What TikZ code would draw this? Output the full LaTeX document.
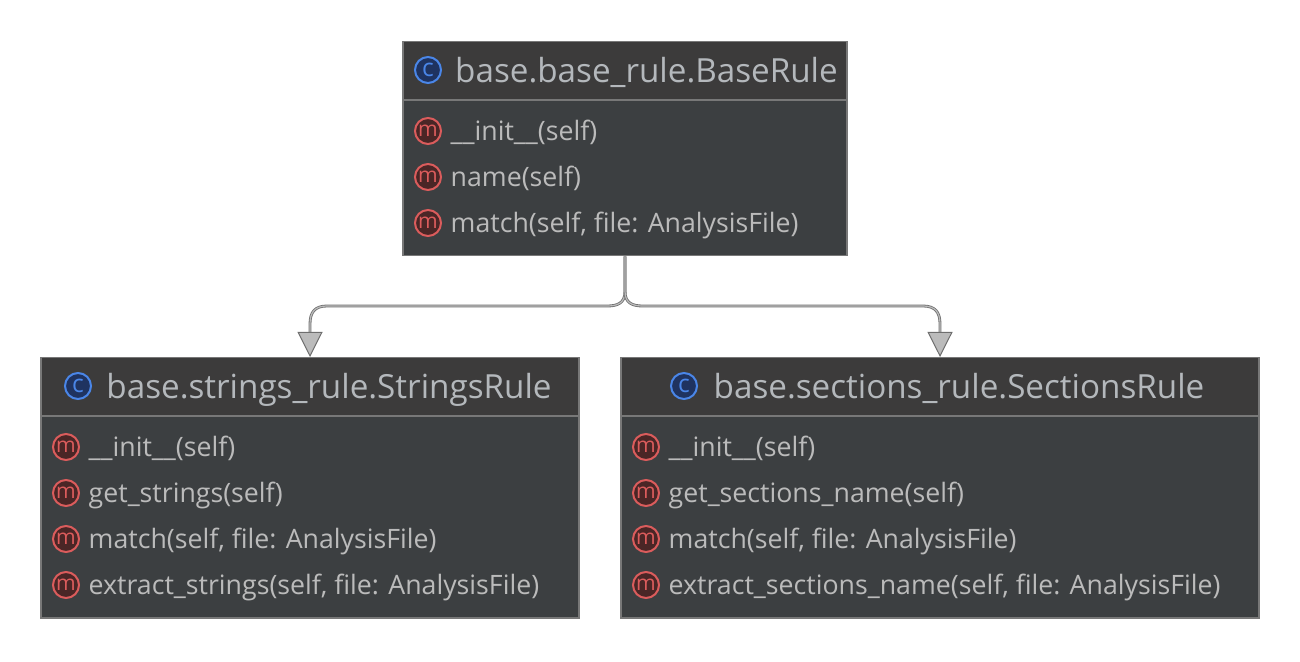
\documentclass[tikz,border=0pt]{standalone}
\usepackage{fontspec}
\setmainfont{Open Sans}
\usetikzlibrary{arrows.meta,positioning}
\definecolor{headfill}{HTML}{3C3B3B}
\definecolor{bodyfill}{HTML}{3C3F41}
\definecolor{boxline}{HTML}{787878}
\definecolor{titlecol}{HTML}{B4B8BC}
\definecolor{textcol}{HTML}{BBBBBB}
\definecolor{iconblue}{HTML}{4A86E8}
\definecolor{iconblued}{HTML}{1F3360}
\definecolor{iconred}{HTML}{DB5C5C}
\definecolor{iconredd}{HTML}{4A2626}
\definecolor{connline}{HTML}{6E6E6E}
\definecolor{connfill}{HTML}{BBBBBB}
\tikzset{
	classbox/.style={draw=boxline, line width=0.15mm, fill=bodyfill, inner sep=0pt, anchor=north},
	classhead/.style={fill=headfill, inner sep=0pt, anchor=north, minimum height=0.58cm},
	titlelabel/.style={text=titlecol, font=\fontsize{9.45}{11}\selectfont, inner sep=0pt, anchor=base},
	methodlabel/.style={text=textcol, font=\fontsize{7.6}{9}\selectfont, inner sep=0pt, anchor=base west},
	classicon/.style={circle, draw=#1, line width=0.2mm, inner sep=0pt, minimum size=0.26cm},
	cicon/.style={classicon=iconblue, fill=iconblued, text=iconblue, font=\fontsize{7}{7}\selectfont},
	micon/.style={classicon=iconred, fill=iconredd, text=iconred, font=\fontsize{6}{6}\selectfont},
	inherit/.style={draw=connline, line width=0.08mm, double=connfill, double distance=0.12mm,
		-{Triangle[length=2.5mm,width=2.5mm,fill=connfill,color=connline,line width=0.1mm]}},
}
\begin{document}
\begin{tikzpicture}
	\useasboundingbox (0,0) rectangle (13,-6.62);
	% class boxes
	\node[classbox, minimum width=4.44cm, minimum height=2.14cm] (base) at (6.25,-0.41) {};
	\node[classbox, minimum width=5.38cm, minimum height=2.60cm] (strings) at (3.10,-3.57) {};
	\node[classbox, minimum width=6.38cm, minimum height=2.60cm] (sections) at (9.40,-3.57) {};
	% headers
	\node[classhead, minimum width=4.42cm] (basehead) at (base.north) {};
	\node[classhead, minimum width=5.36cm] (stringshead) at (strings.north) {};
	\node[classhead, minimum width=6.36cm] (sectionshead) at (sections.north) {};
	\draw[boxline, line width=0.2mm] (basehead.south west) -- (basehead.south east);
	\draw[boxline, line width=0.2mm] (stringshead.south west) -- (stringshead.south east);
	\draw[boxline, line width=0.2mm] (sectionshead.south west) -- (sectionshead.south east);
	% titles
	\node[titlelabel] (basetitle) at (6.465,-0.83) {base.base\_rule.BaseRule};
	\node[titlelabel] (stringstitle) at (3.29,-3.99) {base.strings\_rule.StringsRule};
	\node[titlelabel] (sectionstitle) at (9.59,-3.99) {base.sections\_rule.SectionsRule};
	\node[cicon] (baseicon) at (4.28,-0.70) {c};
	\node[cicon] (stringsicon) at (0.78,-3.86) {c};
	\node[cicon] (sectionsicon) at (6.84,-3.86) {c};
	% methods
	\foreach \y/\name [count=\i] in {1.31/\_\_init\_\_(self), 1.77/name(self), 2.23/{match(self, file: AnalysisFile)}}{
		\node[micon] (basem\i) at (4.28,-\y) {m};
		\node[methodlabel] (baset\i) at (4.50,-\y-0.095) {\name};
	}
	\foreach \y/\name [count=\i] in {4.47/\_\_init\_\_(self), 4.93/get\_strings(self), 5.39/{match(self, file: AnalysisFile)}, 5.85/{extract\_strings(self, file: AnalysisFile)}}{
		\node[micon] (stringsm\i) at (0.66,-\y) {m};
		\node[methodlabel] (stringst\i) at (0.88,-\y-0.095) {\name};
	}
	\foreach \y/\name [count=\i] in {4.47/\_\_init\_\_(self), 4.93/get\_sections\_name(self), 5.39/{match(self, file: AnalysisFile)}, 5.85/{extract\_sections\_name(self, file: AnalysisFile)}}{
		\node[micon] (sectionsm\i) at (6.46,-\y) {m};
		\node[methodlabel] (sectionst\i) at (6.68,-\y-0.095) {\name};
	}
	% connectors
	\draw[inherit] (base.south) -- ++(0,-0.35) .. controls ++(0,-0.12) and ++(0.1,0) .. (6.07,-3.06) -- (3.27,-3.06) .. controls (3.15,-3.06) and (3.10,-3.12) .. (3.10,-3.24) -- (strings.north);
	\draw[inherit] (base.south) -- ++(0,-0.35) .. controls ++(0,-0.12) and ++(-0.1,0) .. (6.43,-3.06) -- (9.23,-3.06) .. controls (9.35,-3.06) and (9.40,-3.12) .. (9.40,-3.24) -- (sections.north);
\end{tikzpicture}
\end{document}
